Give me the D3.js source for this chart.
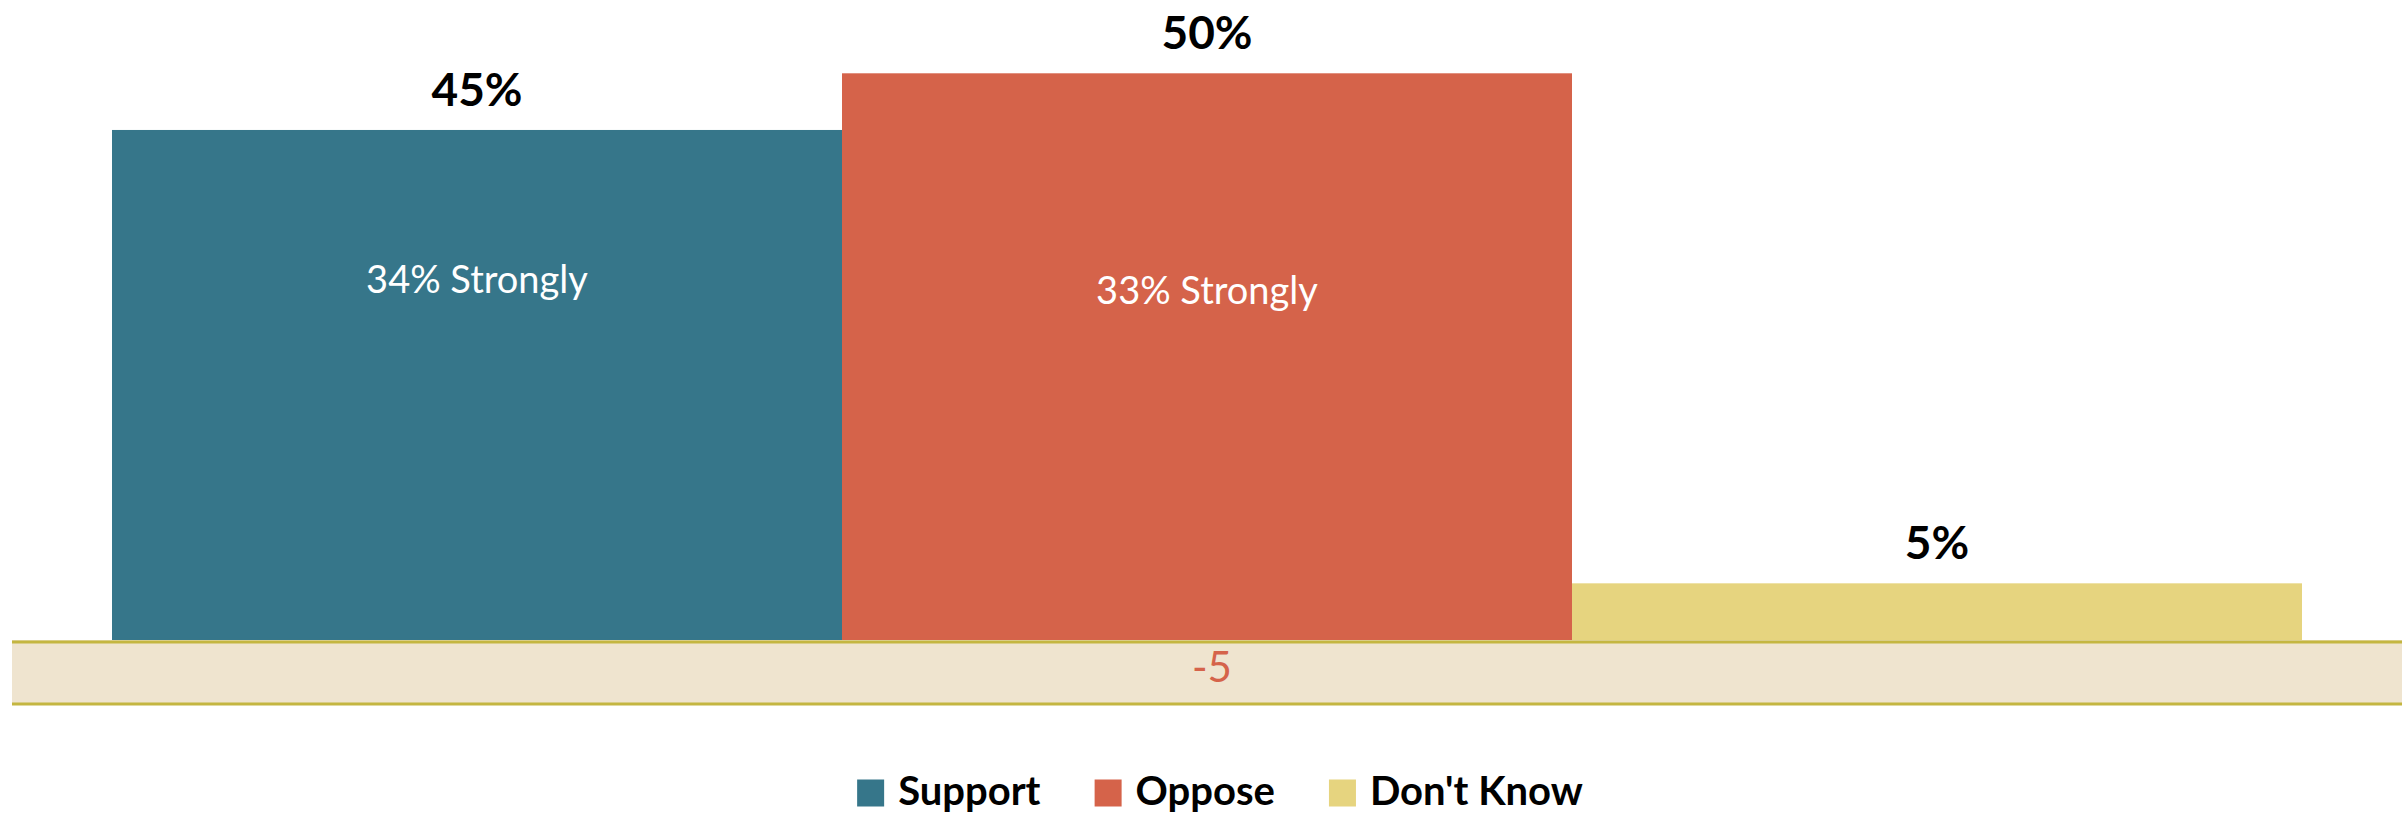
<!DOCTYPE html>
<html>
<head>
<meta charset="utf-8">
<script src="https://cdn.jsdelivr.net/npm/d3@7"></script>
<style>
  html, body { margin: 0; padding: 0; background: #fff; }
  svg { display: block; font-family: Lato, "Open Sans", sans-serif; }
</style>
</head>
<body>
<svg id="viz-svg" width="2402" height="817"></svg>
<script>
// values
var categories = ["Support", "Oppose", "Don't Know"]
var totals = [45, 50, 5]
var strongly = [34, 33, null]
var netLabel = ["-5"]
var colors = ["#36768a", "#d5634a", "#e6d47f"]

var svg = d3.select("#viz-svg")
  , width = 2402
  , height = 817
  , plotLeft = 112
  , plotRight = 2302
  , bandHeight = 64

var x = d3.scaleBand()
  .domain(categories)
  .range([plotLeft, plotRight])
  .padding(0)

var y = d3.scaleLinear()
  .domain([0, 50])
  .range([640, 73.3])

var color = d3.scaleOrdinal().domain(categories).range(colors)

var rows = categories.map(function(c, i){
  return {cat: c, total: totals[i], strong: strongly[i]}
})

// bars
svg.append("g")
  .attr("id", "bars")
  .selectAll("rect")
  .data(rows)
  .enter().append("rect")
    .attr("x", function(d){ return x(d.cat) })
    .attr("y", function(d){ return y(d.total) })
    .attr("width", x.bandwidth())
    .attr("height", function(d){ return y(0) - y(d.total) })
    .style("fill", function(d){ return color(d.cat) })

// net band under the baseline
var band = svg.append("g").attr("id", "net-band")
band.append("rect")
  .attr("x", 12)
  .attr("y", y(0))
  .attr("width", width - 12)
  .attr("height", bandHeight)
  .style("fill", "#efe4cf")
band.selectAll("line")
  .data([y(0) + 2, y(0) + bandHeight])
  .enter().append("line")
    .attr("x1", 12)
    .attr("x2", width)
    .attr("y1", function(d){ return d })
    .attr("y2", function(d){ return d })
    .style("stroke", "#c4b641")
    .style("stroke-width", 3)
band.append("text")
  .text(netLabel[0])
  .attr("x", 1212)
  .attr("y", y(0) + 42)
  .style("text-anchor", "middle")
  .style("font-size", "42px")
  .style("fill", "#d5634a")

// total labels above bars
svg.append("g")
  .attr("id", "total-labels")
  .selectAll("text")
  .data(rows)
  .enter().append("text")
    .text(function(d){ return d.total + "%" })
    .attr("x", function(d){ return x(d.cat) + x.bandwidth()/2 })
    .attr("y", function(d){ return y(d.total) - 24 })
    .style("text-anchor", "middle")
    .style("font-size", "46px")
    .style("font-weight", "bold")
    .style("fill", "#000")

// "strongly" labels inside bars
svg.append("g")
  .attr("id", "strong-labels")
  .selectAll("text")
  .data(rows.filter(function(d){ return d.strong != null }))
  .enter().append("text")
    .text(function(d){ return d.strong + "% Strongly" })
    .attr("x", function(d){ return x(d.cat) + x.bandwidth()/2 })
    .attr("y", function(d){ return y(d.strong) + 38 })
    .style("text-anchor", "middle")
    .style("font-size", "38px")
    .style("fill", "#fff")

// legend
var legend = svg.append("g").attr("id", "legend")
  , sq = 27
  , gapText = 14
  , gapItem = 54
  , cursor = 0
var items = legend.selectAll("g")
  .data(categories)
  .enter().append("g")
items.append("rect")
  .attr("width", sq)
  .attr("height", sq)
  .attr("y", -sq/2)
  .style("fill", function(d){ return color(d) })
items.append("text")
  .text(function(d){ return d })
  .attr("x", sq + gapText)
  .attr("y", 12)
  .style("font-size", "40px")
  .style("font-weight", "bold")
  .style("fill", "#000")
items.each(function(){
  var w = this.getBBox().width
  d3.select(this).attr("transform", "translate(" + cursor + ",0)")
  cursor += w + gapItem
})
var legendWidth = cursor - gapItem
legend.attr("transform", "translate(" + (1220 - legendWidth/2) + ",793)")
</script>
</body>
</html>
